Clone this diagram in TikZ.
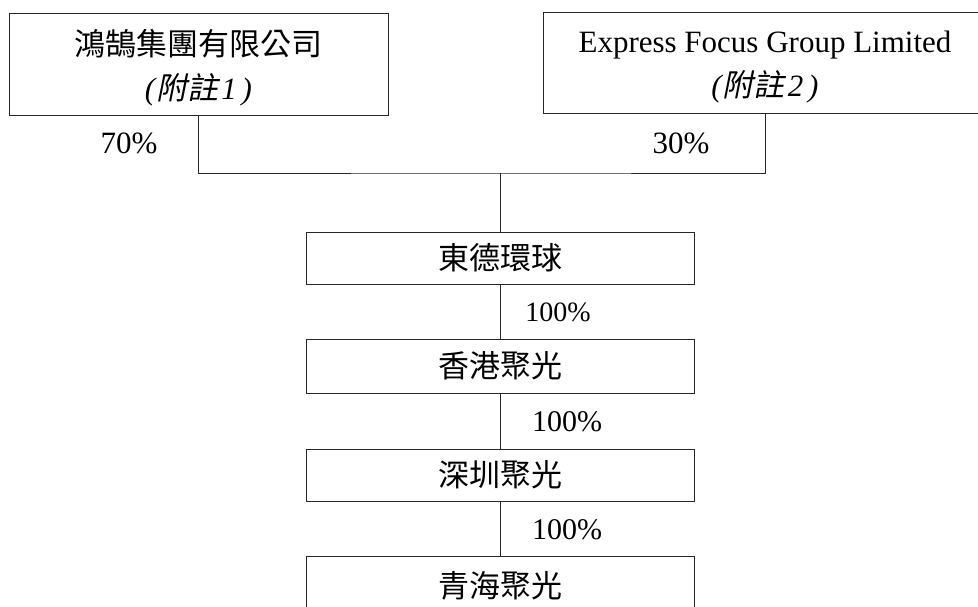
\documentclass[tikz,border=0pt]{standalone}
\usepackage{fontspec}
\setmainfont{Liberation Serif}
\newfontfamily\cjk{Noto Sans CJK TC}
\newfontfamily\cjkit{Noto Sans CJK TC}[FakeSlant=0.2]
\begin{document}
\begin{tikzpicture}[x=1pt,y=-1pt,
  box/.style={draw=black!85,line width=1pt,rectangle,inner sep=0pt,align=center,
    font=\fontsize{31}{44}\selectfont},
  pct/.style={inner sep=0pt,font=\fontsize{31}{36}\selectfont},
  link/.style={draw=black!85,line width=1pt}]
\useasboundingbox (0,0) rectangle (978,606);
\clip (0,0) rectangle (978,606);
\node[box,minimum width=379pt,minimum height=102pt] (A) at (198.5,64)
  {\rule{0pt}{34pt}{\cjk 鴻鵠集團有限公司}\\{\itshape(\kern1pt{\cjkit 附註}\kern3pt 1\kern5pt)}};
\node[box,minimum width=444pt,minimum height=101pt] (B) at (765,62.5)
  {\rule{0pt}{31pt}Express Focus Group Limited\\{\itshape(\kern1pt{\cjkit 附註}\kern3pt 2\kern5pt)}};
\coordinate (J) at (500,173);
\node[box,minimum width=388pt,minimum height=52pt] (C) at (500,258) {\cjk 東德環球};
\node[box,minimum width=388pt,minimum height=54pt] (D) at (500,366) {\cjk 香港聚光};
\node[box,minimum width=388pt,minimum height=52pt] (E) at (500,475) {\cjk 深圳聚光};
\node[box,minimum width=388pt,minimum height=60pt] (F) at (500,586) {\cjk 青海聚光};
\draw[link] (A.south) |- (J) -| (B.south);
\draw[link] (J) -- (C.north);
\draw[link] (C.south) -- (D.north);
\draw[link] (D.south) -- (E.north);
\draw[link] (E.south) -- (F.north);
\node[pct] (p70) at (129,143) {70\%};
\node[pct] (p30) at (681,143) {30\%};
\node[pct,font=\fontsize{28}{32}\selectfont] (p1) at (558,312) {100\%};
\node[pct,font=\fontsize{30}{34}\selectfont] (p2) at (567,422) {100\%};
\node[pct,font=\fontsize{30}{34}\selectfont] (p3) at (567,530) {100\%};
\end{tikzpicture}
\end{document}
